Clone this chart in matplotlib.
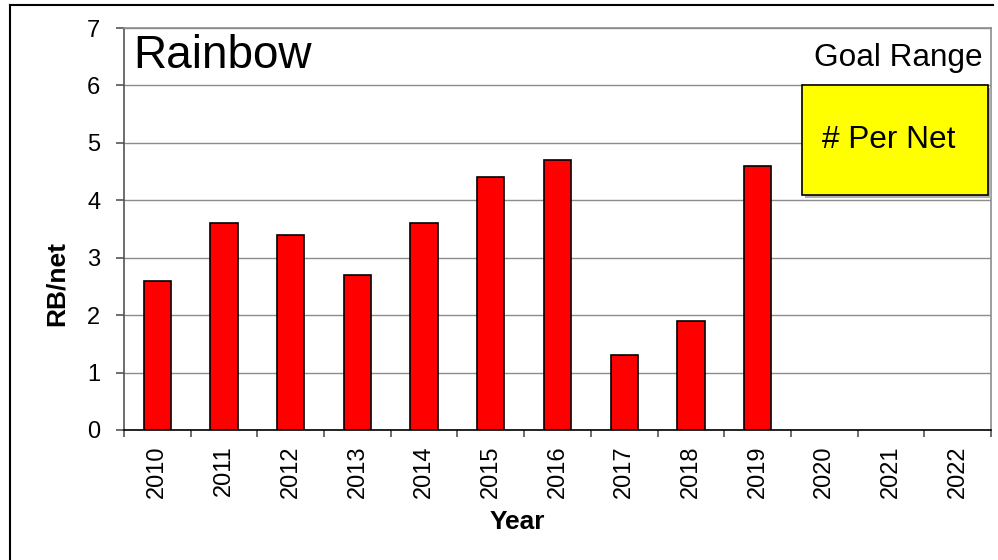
import matplotlib.pyplot as plt
from matplotlib.patches import Rectangle
from matplotlib.lines import Line2D

plt.rcParams['font.family'] = ['Liberation Sans', 'DejaVu Sans']

# data
years = ['2010', '2011', '2012', '2013', '2014', '2015', '2016',
         '2017', '2018', '2019', '2020', '2021', '2022']
rb_per_net = [2.6, 3.6, 3.4, 2.7, 3.6, 4.4, 4.7, 1.3, 1.9, 4.6, 0, 0, 0]

W, H = 998, 560
fig = plt.figure(figsize=(W / 100, H / 100), dpi=100)
ax = fig.add_axes([124 / W, 1 - 430 / H, (991 - 124) / W, (430 - 28) / H])

x = list(range(len(years)))
ax.bar(x[:10], rb_per_net[:10], width=0.41, color='#ff0000',
       edgecolor='black', linewidth=1.2, zorder=3)

ax.set_xlim(-0.5, len(years) - 0.5)
ax.set_ylim(0, 7)
ax.set_yticks(range(0, 8))
ax.yaxis.grid(True, color='#8c8c8c', linewidth=1.0, zorder=0)

# ticks sit between the categories, labels in the middle
ax.set_xticks([i - 0.5 for i in range(len(years) + 1)])
ax.set_xticklabels([])
ax.set_xticks(x, minor=True)
ax.set_xticklabels(years, minor=True, rotation=90, fontsize=17)
ax.tick_params(axis='x', which='minor', length=0, pad=11)
ax.tick_params(axis='x', which='major', length=5, width=1.2, color='#555555')
ax.tick_params(axis='y', labelsize=17, length=6, width=1.2, color='#555555', pad=11)

for s in ['top', 'right']:
    ax.spines[s].set_color('#8c8c8c')
ax.spines['left'].set_color('#555555')
ax.spines['bottom'].set_color('black')
for s in ax.spines.values():
    s.set_linewidth(1.2)

# axis titles sit off-centre in the original
fig.text(57 / W, 1 - 284 / H, 'RB/net', fontsize=19, fontweight='bold',
         rotation=90, ha='center', va='center')
fig.text(517 / W, 1 - 522 / H, 'Year', fontsize=19, fontweight='bold',
         ha='center', va='center')

ax.text(0.011, 0.985, 'Rainbow', transform=ax.transAxes, fontsize=33,
        ha='left', va='top')
fig.text(983 / W, 1 - 58 / H, 'Goal Range', fontsize=22.7,
         ha='right', va='center')

# yellow label box with a soft shadow
bx0, by0, bx1, by1 = 802, 85, 988, 195
fig.patches.append(Rectangle(((bx0 + 3) / W, 1 - (by1 + 3) / H),
                             (bx1 - bx0) / W, (by1 - by0) / H,
                             transform=fig.transFigure, facecolor='#b0b0b0',
                             edgecolor='none', zorder=4))
fig.patches.append(Rectangle((bx0 / W, 1 - by1 / H),
                             (bx1 - bx0) / W, (by1 - by0) / H,
                             transform=fig.transFigure, facecolor='#ffff00',
                             edgecolor='black', linewidth=1.2, zorder=5))
fig.text(889 / W, 1 - 140 / H, '# Per Net', fontsize=22.7,
         ha='center', va='center', zorder=6)

# outer frame of the chart object
fig.lines.append(Line2D([10 / W, 10 / W], [0, 1 - 5 / H], transform=fig.transFigure,
                        color='black', linewidth=1.5))
fig.lines.append(Line2D([10 / W, 993 / W], [1 - 5 / H, 1 - 5 / H],
                        transform=fig.transFigure, color='black', linewidth=1.5))

fig.savefig('out.png', dpi=100)
